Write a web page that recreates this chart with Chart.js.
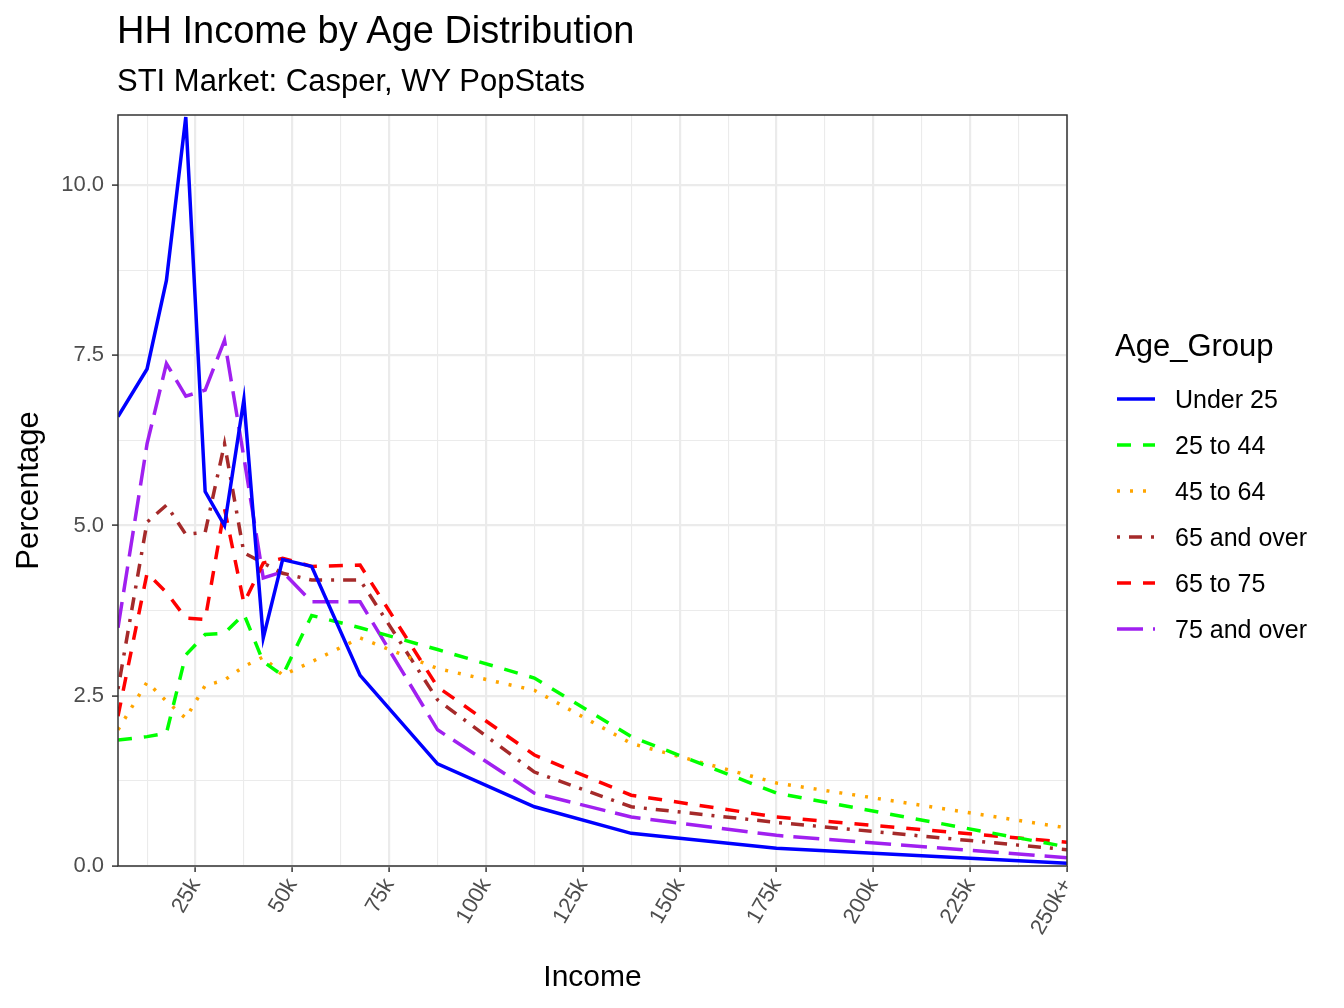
<!DOCTYPE html>
<html><head><meta charset="utf-8">
<script src="https://cdn.jsdelivr.net/npm/chart.js@4"></script>
<style>
body{margin:0;background:#fff;font-family:"Liberation Sans",Arial,sans-serif;}
#wrap{position:relative;width:1344px;height:1008px;}
#t{position:absolute;left:117px;top:9px;font-size:38px;color:#000;}
#st{position:absolute;left:117px;top:63px;font-size:31px;color:#000;}
#lg{position:absolute;left:1115px;top:328px;}
#lg .h{font-size:31px;margin-bottom:12px;}
#lg .it{display:flex;align-items:center;height:46px;font-size:25px;}
#lg svg{margin-right:18px;}
</style></head><body>
<div id="wrap"><canvas id="c" width="1344" height="1008"></canvas>
<div id="t">HH Income by Age Distribution</div>
<div id="st">STI Market: Casper, WY PopStats</div>
<div id="lg"></div></div>
<script>
const incomes=[5,12.5,17.5,22.5,27.5,32.5,37.5,42.5,47.5,55,67.5,87.5,112.5,137.5,175,250];
const under25=[6.6,7.3,8.6,11.0,5.5,5.0,6.85,3.35,4.5,4.4,2.8,1.5,0.87,0.48,0.26,0.04];
const age25to44=[1.85,1.9,1.95,3.1,3.4,3.42,3.7,3.0,2.8,3.68,3.5,3.18,2.76,1.9,1.07,0.28];
const age45to64=[2.0,2.7,2.42,2.17,2.65,2.73,2.93,3.07,2.8,3.0,3.35,2.9,2.58,1.8,1.22,0.56];
const age65over=[2.6,5.05,5.3,4.87,4.9,6.2,4.6,4.45,4.3,4.2,4.2,2.44,1.38,0.87,0.64,0.24];
const age65to75=[2.2,4.3,4.02,3.64,3.62,5.25,3.86,4.45,4.52,4.4,4.42,2.63,1.63,1.04,0.72,0.35];
const age75over=[3.5,6.2,7.38,6.9,6.99,7.72,6.0,4.23,4.32,3.88,3.88,2.0,1.07,0.72,0.45,0.12];
const xTickLabels={25:"25k",50:"50k",75:"75k",100:"100k",125:"125k",150:"150k",175:"175k",200:"200k",225:"225k",250:"250k+"};
const yTickLabels={0:"0.0",2.5:"2.5",5:"5.0",7.5:"7.5",10:"10.0"};
const seriesNames=["Under 25","25 to 44","45 to 64","65 and over","65 to 75","75 and over"];
const seriesData=[under25,age25to44,age45to64,age65over,age65to75,age75over];
const colors=["#0000FF","#00FF00","#FFA500","#A52A2A","#FF0000","#A020F0"];
const dashes=[[],[14,12],[3,10],[3,9,13,9],[14,12],[26,10]];
const xTicks=[];for(let v=12.5;v<=250;v+=12.5)xTicks.push(v);
const yTicks=[];for(let v=0;v<=10.01;v+=1.25)yTicks.push(+v.toFixed(2));
const isMajor=(v,s)=>Math.abs(v/s-Math.round(v/s))<1e-6;
const datasets=seriesNames.map((n,i)=>({label:n,data:incomes.map((x,j)=>({x:x,y:seriesData[i][j]})),
 borderColor:colors[i],borderWidth:3.5,borderDash:dashes[i],borderCapStyle:'butt',pointRadius:0,tension:0,fill:false}));
const border={id:'b',afterDraw(c){const a=c.chartArea,x=c.ctx;x.save();x.strokeStyle='#333';x.lineWidth=1.5;x.setLineDash([]);x.strokeRect(a.left,a.top,a.right-a.left,a.bottom-a.top);x.restore();}};
new Chart(document.getElementById('c'),{type:'line',data:{datasets},plugins:[border],
options:{responsive:false,animation:false,events:[],
layout:{padding:{top:115,right:277,left:0,bottom:0}},
plugins:{legend:{display:false},tooltip:{enabled:false}},
scales:{
x:{type:'linear',min:5,max:250,afterBuildTicks:s=>{s.ticks=xTicks.map(v=>({value:v}));},
 afterFit:s=>{s.height=142;},
 ticks:{autoSkip:false,minRotation:60,maxRotation:60,color:'#4d4d4d',font:{size:22,family:'Liberation Sans'},padding:2,
  callback:v=>xTickLabels[v]||''},
 grid:{color:c=>'#ebebeb',lineWidth:c=>isMajor(c.tick.value,25)?2.2:1.1,tickColor:c=>isMajor(c.tick.value,25)?'#333':'rgba(0,0,0,0)',tickLength:6,tickWidth:1.5},
 border:{display:false},
 title:{display:true,text:'Income',color:'#000',font:{size:30,family:'Liberation Sans'},padding:{top:12,bottom:12}}},
y:{type:'linear',min:0,max:11.03,afterBuildTicks:s=>{s.ticks=yTicks.map(v=>({value:v}));},
 afterFit:s=>{s.width=118;},
 ticks:{autoSkip:false,color:'#4d4d4d',font:{size:22,family:'Liberation Sans'},padding:8,
  callback:v=>yTickLabels[v]!==undefined?yTickLabels[v]:''},
 grid:{color:'#ebebeb',lineWidth:c=>isMajor(c.tick.value,2.5)?2.2:1.1,tickColor:c=>isMajor(c.tick.value,2.5)?'#333':'rgba(0,0,0,0)',tickLength:6,tickWidth:1.5},
 border:{display:false},
 title:{display:true,text:'Percentage',color:'#000',font:{size:31,family:'Liberation Sans'},padding:{top:11,bottom:11}}}
}}});
const lg=document.getElementById('lg');
let h='<div class="h">Age_Group</div>';
seriesNames.forEach((n,i)=>{h+='<div class="it"><svg width="42" height="10"><line x1="2" y1="5" x2="40" y2="5" stroke="'+colors[i]+'" stroke-width="3.5" stroke-dasharray="'+(dashes[i].length?dashes[i].join(','):'none')+'"/></svg><span>'+n+'</span></div>';});
lg.innerHTML=h;
</script></body></html>
